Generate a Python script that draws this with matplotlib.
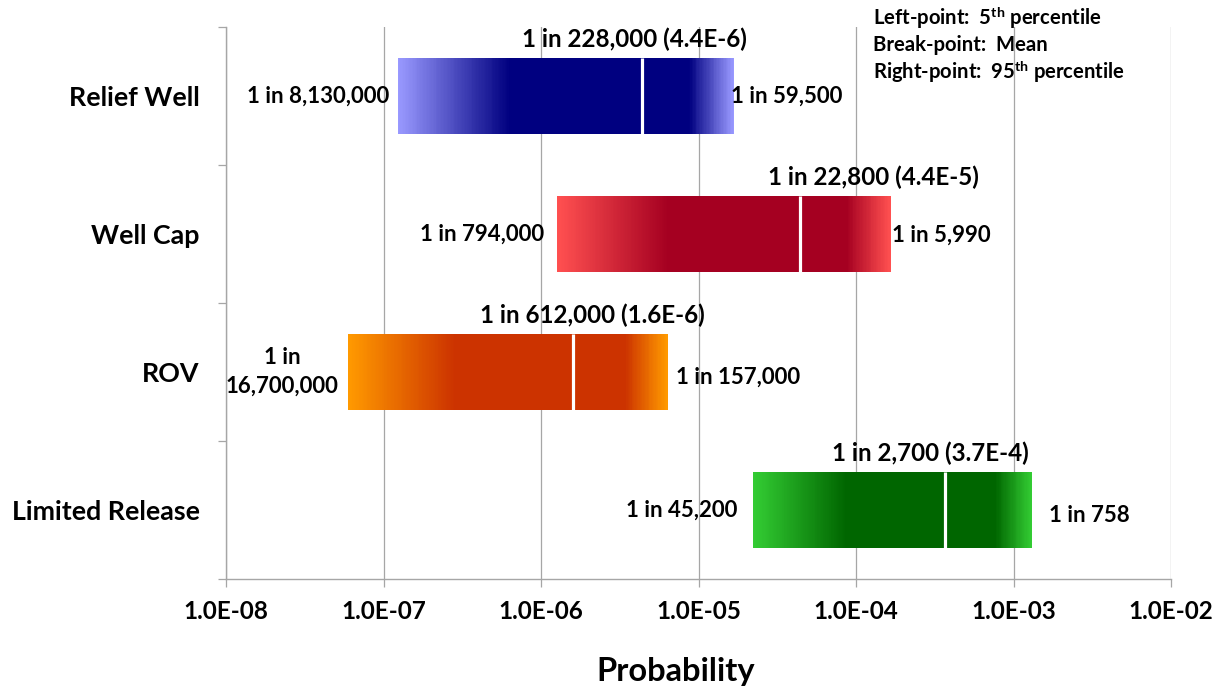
import numpy as np
import matplotlib
matplotlib.use("Agg")
import matplotlib.pyplot as plt
from matplotlib.colors import LinearSegmentedColormap
from matplotlib.ticker import FixedLocator, FuncFormatter

# ---- data -------------------------------------------------------------
categories = ["Relief Well", "Well Cap", "ROV", "Limited Release"]
p05 = [1 / 8130000, 1 / 794000, 1 / 16700000, 1 / 45200]      # 5th percentile
p_mean = [4.4e-6, 4.4e-5, 1.6e-6, 3.7e-4]                      # mean
p95 = [1 / 59500, 1 / 5990, 1 / 157000, 1 / 758]             # 95th percentile
left_labels = ["1 in 8,130,000", "1 in 794,000", "1 in\n16,700,000", "1 in 45,200"]
right_labels = ["1 in 59,500", "1 in 5,990", "1 in 157,000", "1 in 758"]
mean_labels = ["1 in 228,000 (4.4E-6)", "1 in 22,800 (4.4E-5)",
               "1 in 612,000 (1.6E-6)", "1 in 2,700 (3.7E-4)"]
x_ticks = [1e-8, 1e-7, 1e-6, 1e-5, 1e-4, 1e-3, 1e-2]

# ---- styling ------------------------------------------------------------
FONT = "Lato"
plt.rcParams["font.family"] = [FONT, "DejaVu Sans"]
plt.rcParams["font.weight"] = "bold"
plt.rcParams["mathtext.fontset"] = "custom"
plt.rcParams["mathtext.rm"] = FONT
plt.rcParams["mathtext.bf"] = FONT + ":bold"

bar_colors = [("#9999FF", "#000080"),
              ("#FF5050", "#A50021"),
              ("#FF9900", "#CC3300"),
              ("#33CC33", "#006600")]
# label offsets in points (dx, dy)
mean_label_dx = [-6, 53, 14, -11]
left_label_dx = [-6, -9, -7, -11]
right_label_off = [(-2, 0), (1, -1), (6, -4), (12, -4)]

GRID = "#A6A6A6"
BAR_H = 0.55

fig = plt.figure(figsize=(12.25, 6.89), dpi=100)
ax = fig.add_axes([226 / 1225, 1 - 579 / 689, (1171 - 226) / 1225, (579 - 27) / 689])
ax.set_xscale("log")
ax.set_xlim(1e-8, 1e-2)
ax.set_ylim(-0.5, len(categories) - 0.5)

ypos = [len(categories) - 1 - i for i in range(len(categories))]

for i, cat in enumerate(categories):
    y = ypos[i]
    light, dark = bar_colors[i]
    cmap = LinearSegmentedColormap.from_list(
        f"grad{i}", [(0.0, light), (0.33, dark), (0.87, dark), (1.0, light)])
    xe = np.logspace(np.log10(p05[i]), np.log10(p95[i]), 240)
    t = np.linspace(0, 1, len(xe) - 1)[None, :]
    ax.pcolormesh(xe, [y - BAR_H / 2, y + BAR_H / 2], t, cmap=cmap,
                  vmin=0, vmax=1, shading="flat", zorder=3, rasterized=True)
    # break at the mean
    ax.vlines(p_mean[i], y - BAR_H / 2, y + BAR_H / 2, colors="white",
              linewidth=2.3, zorder=4)

    ax.annotate(mean_labels[i], (p_mean[i], y + BAR_H / 2),
                xytext=(mean_label_dx[i], 13.5), textcoords="offset points",
                ha="center", va="center", fontsize=17.4, fontweight="bold", zorder=5)
    ax.annotate(left_labels[i], (p05[i], y),
                xytext=(left_label_dx[i], 0), textcoords="offset points",
                ha="right", va="center", multialignment="center",
                fontsize=16, fontweight="bold", linespacing=1.45, zorder=5)
    ax.annotate(right_labels[i], (p95[i], y),
                xytext=right_label_off[i], textcoords="offset points",
                ha="left", va="center", fontsize=16, fontweight="bold", zorder=5)

# axes, ticks and grid
for s in ("top", "right"):
    ax.spines[s].set_visible(False)
for s in ("left", "bottom"):
    ax.spines[s].set_color(GRID)
    ax.spines[s].set_linewidth(1.0)

ax.xaxis.set_major_locator(FixedLocator(x_ticks))
ax.xaxis.set_minor_locator(FixedLocator([]))
ax.xaxis.set_major_formatter(FuncFormatter(lambda v, _: f"{v:.1E}"))
ax.grid(axis="x", which="major", color=GRID, linewidth=0.9, zorder=0)
ax.tick_params(axis="x", which="major", length=6, width=0.9, color=GRID,
               direction="out", pad=9, labelsize=17.5)
for lbl in ax.get_xticklabels():
    lbl.set_fontweight("bold")

ax.set_yticks(ypos)
ax.set_yticklabels(categories, fontsize=19.3, fontweight="bold")
ax.set_yticks([k - 0.5 for k in range(len(categories) + 1)], minor=True)
ax.tick_params(axis="y", which="major", length=0, pad=19)
ax.tick_params(axis="y", which="minor", length=6, width=0.9, color=GRID, direction="out")

ax.set_xlabel("Probability", fontsize=23.5, fontweight="bold")
ax.xaxis.set_label_coords((676 - 226) / 945, -(672 - 579) / 552, transform=ax.transAxes)
ax.xaxis.label.set_va("center")

# key to the bar points
legend_lines = [r"Left-point:  5$^{\mathbf{th}}$ percentile",
                "Break-point:  Mean",
                r"Right-point:  95$^{\mathbf{th}}$ percentile"]
for k, line in enumerate(legend_lines):
    fig.text(873 / 1225, 1 - (18 + 27 * k) / 689, line, ha="left", va="center",
             fontsize=14.6, fontweight="bold")

fig.savefig("out.png", dpi=100, facecolor="white")
